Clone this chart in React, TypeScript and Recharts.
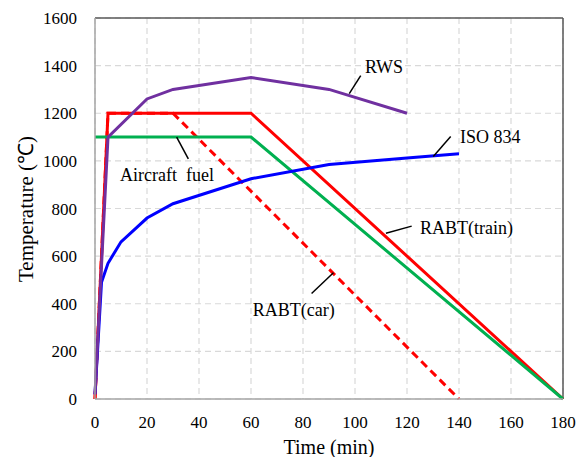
import {
  CartesianGrid,
  Label,
  Line,
  LineChart,
  ReferenceDot,
  ReferenceLine,
  XAxis,
  YAxis,
} from "recharts";

const FONT = "'Liberation Serif', 'Times New Roman', serif";

// time (min) / temperature (°C) for each fire curve
const rabtTrainTime = [0, 5, 60, 180];
const rabtTrainTemp = [0, 1200, 1200, 0];

const rabtCarTime = [0, 5, 30, 140];
const rabtCarTemp = [0, 1200, 1200, 0];

const aircraftTime = [0, 60, 180];
const aircraftTemp = [1100, 1100, 0];

const isoTime = [0, 2.5, 5, 10, 20, 30, 60, 90, 120, 140];
const isoTemp = [20, 490, 570, 660, 760, 820, 925, 985, 1012, 1030];

const rwsTime = [0, 5, 20, 30, 60, 90, 120];
const rwsTemp = [20, 1100, 1260, 1300, 1350, 1300, 1200];

const xTicks = [0, 20, 40, 60, 80, 100, 120, 140, 160, 180];
const yTicks = [0, 200, 400, 600, 800, 1000, 1200, 1400, 1600];

const zip = (t: number[], v: number[]) => t.map((x, i) => ({ t: x, temp: v[i] }));

const series = [
  { name: "RABT(train)", data: zip(rabtTrainTime, rabtTrainTemp), color: "#ff0000", dash: undefined },
  { name: "RABT(car)", data: zip(rabtCarTime, rabtCarTemp), color: "#ff0000", dash: "8 5" },
  { name: "Aircraft fuel", data: zip(aircraftTime, aircraftTemp), color: "#00b050", dash: undefined },
  { name: "ISO 834", data: zip(isoTime, isoTemp), color: "#0000ff", dash: undefined },
  { name: "RWS", data: zip(rwsTime, rwsTemp), color: "#7030a0", dash: undefined },
];

// callouts: text anchor point and leader line ends, in axis units
const callouts = [
  { text: "RWS", at: [103.8, 1397], from: [97.8, 1282], to: [102.2, 1358] },
  { text: "ISO 834", at: [140.4, 1102], from: [130.1, 1018], to: [136.8, 1102] },
  { text: "Aircraft  fuel", at: [9.6, 941], from: [31.4, 1100], to: [35.9, 1008] },
  { text: "RABT(car)", at: [60.7, 376], from: [91.7, 530], to: [83.3, 443] },
  { text: "RABT(train)", at: [125, 721], from: [111.9, 696], to: [121.8, 726] },
];

const tickStyle = { fontSize: 17, fill: "#000", fontFamily: FONT };

export default function App() {
  return (
    <div style={{ position: "absolute", left: 0, top: 0, background: "#fff" }}>
      <LineChart
        width={587}
        height={457}
        margin={{ top: 18, right: 24, bottom: 0, left: 0 }}
      >
        <CartesianGrid stroke="#d9d9d9" strokeDasharray="6 4" strokeWidth={1.2} />
        <XAxis
          dataKey="t"
          type="number"
          domain={[0, 180]}
          ticks={xTicks}
          allowDuplicatedCategory={false}
          height={58}
          tickLine={false}
          tickSize={0}
          tickMargin={17}
          tick={tickStyle}
          axisLine={{ stroke: "#a6a6a6", strokeWidth: 1.5 }}
        >
          <Label
            value="Time (min)"
            position="insideBottom"
            offset={3}
            style={{ fontSize: 20, fill: "#000", fontFamily: FONT }}
          />
        </XAxis>
        <YAxis
          type="number"
          domain={[0, 1600]}
          ticks={yTicks}
          width={95}
          tickLine={false}
          tickSize={0}
          tickMargin={18}
          tick={tickStyle}
          axisLine={{ stroke: "#a6a6a6", strokeWidth: 1.5 }}
          label={{
            content: () => (
              <text
                x={33}
                y={209}
                transform="rotate(-90, 33, 209)"
                textAnchor="middle"
                fontSize={21}
                fontFamily={FONT}
                fill="#000"
              >
                Temperature (℃)
              </text>
            ),
          }}
        />
        <ReferenceLine y={1600} stroke="#595959" strokeWidth={1.5} />
        <ReferenceLine x={180} stroke="#595959" strokeWidth={1.5} />
        {series.map((s) => (
          <Line
            key={s.name}
            data={s.data}
            dataKey="temp"
            type="linear"
            stroke={s.color}
            strokeWidth={3}
            strokeDasharray={s.dash}
            dot={false}
            activeDot={false}
            isAnimationActive={false}
          />
        ))}
        {callouts.map((c) => (
          <ReferenceLine
            key={c.text + "-line"}
            segment={[
              { x: c.from[0], y: c.from[1] },
              { x: c.to[0], y: c.to[1] },
            ]}
            stroke="#000"
            strokeWidth={1.5}
          />
        ))}
        {callouts.map((c) => (
          <ReferenceDot
            key={c.text}
            x={c.at[0]}
            y={c.at[1]}
            r={0}
            fill="none"
            stroke="none"
            label={{
              content: (props: any) => {
                const vb = props.viewBox || {};
                return (
                  <text
                    x={vb.x}
                    y={vb.y}
                    dy="0.35em"
                    textAnchor="start"
                    fontSize={18}
                    fontFamily={FONT}
                    fill="#000"
                    style={{ whiteSpace: "pre" }}
                  >
                    {c.text}
                  </text>
                );
              },
            }}
          />
        ))}
      </LineChart>
    </div>
  );
}
